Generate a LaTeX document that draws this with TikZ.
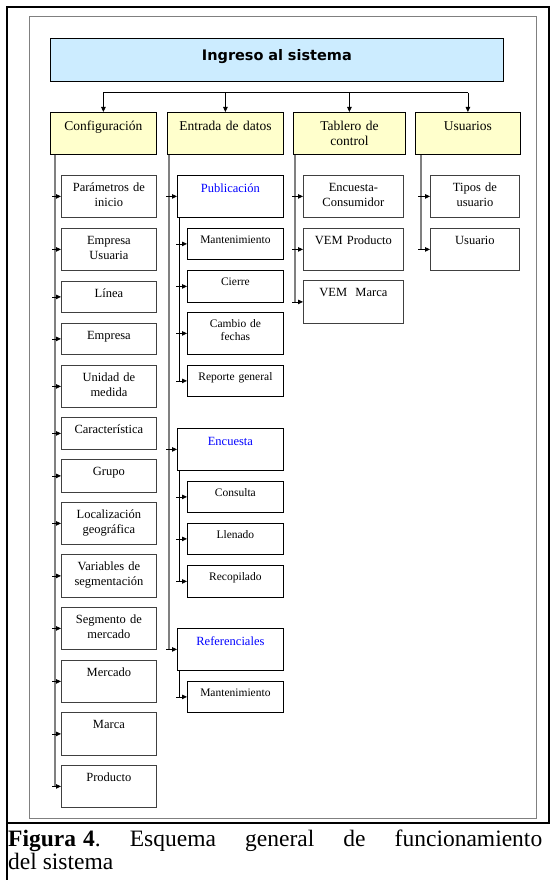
\documentclass[tikz,border=0pt]{standalone}
\usepackage{fontspec}
\setmainfont{Liberation Serif}
\newfontfamily\titlefont{DejaVu Sans}
\usepackage{xcolor}
\usepackage{tikz}
\usetikzlibrary{arrows.meta,calc}
\definecolor{lightblue}{RGB}{204,236,255}
\definecolor{lightyellow}{RGB}{255,255,204}
\definecolor{linkblue}{RGB}{0,0,255}

\begin{document}
\begin{tikzpicture}[x=1pt,y=-1pt,>={Triangle[length=5pt,width=4.5pt]},every node/.style={font=\fontsize{12.5}{15}\selectfont}]
\tikzstyle{box}=[draw=black!75,fill=white,line width=0.8pt,anchor=north west,align=center,inner xsep=0pt,inner ysep=0pt,text height=16pt]
\tikzstyle{head}=[box,draw=black,fill=lightyellow,font=\fontsize{13.5}{15}\selectfont,text height=18pt,text depth=24pt]
\tikzstyle{group}=[box,draw=black,text=linkblue,text width=106pt,text height=17pt,text depth=25pt]
\tikzstyle{sub}=[box,draw=black,text width=96pt,text height=15pt,font=\fontsize{11.5}{13.5}\selectfont]
\tikzstyle{spine}=[draw=black!50,line width=1.5pt]
\tikzstyle{link}=[->,line width=0.8pt]
\useasboundingbox (0,0) rectangle (550,880);
\draw[line width=2pt] (7,880) -- (7,7) -- (549,7) -- (549,823);
\draw[line width=2pt] (6,823) -- (550,823);
\draw[black!50,line width=1pt] (29,17) rectangle (536,818);
\node[box,draw=black,fill=lightblue,text width=453pt,text height=22pt,text depth=21pt,font=\titlefont\bfseries\fontsize{14.5}{17}\selectfont] (title) at (50,38) {Ingreso al sistema};
\node[head,text width=106pt] (cfg) at (50,112) {Configuración};
\node[head,text width=116pt] (ent) at (167,112) {Entrada de datos};
\node[head,text width=112pt] (tab) at (293,112) {Tablero de\\control};
\node[head,text width=105pt] (usr) at (415,112) {Usuarios};
\foreach \n/\y/\hh/\txt in {c1/175/26/{Parámetros de\\inicio},c2/228/26/{Empresa\\Usuaria},c3/281/15/{Línea},c4/323/15/{Empresa},c5/365/26/{Unidad de\\medida},c6/417/16/{Característica},c7/459/17/{Grupo},c8/502/26/{Localización\\geográfica},c9/554/27/{Variables de\\segmentación},c10/607/26/{Segmento de\\mercado},c11/660/26/{Mercado},c12/712/27/{Marca},c13/765/26/{Producto}}{\node[box,text width=95pt,text depth=\hh pt] (\n) at (61,\y) {\txt};}
\node[group] (pub) at (177,175) {Publicación};
\node[group] (enc) at (177,428) {Encuesta};
\node[group] (ref) at (177,628) {Referenciales};
\foreach \n/\y/\hh/\txt in {s1/228/16/{Mantenimiento},s2/270/17/{Cierre},s3/312/27/{Cambio de\\fechas},s4/365/16/{Reporte general},s5/481/16/{Consulta},s6/523/16/{Llenado},s7/565/17/{Recopilado},s8/681/16/{Mantenimiento}}{\node[sub,text depth=\hh pt] (\n) at (187,\y) {\txt};}
\foreach \n/\y/\hh/\txt in {t1/175/26/{Encuesta-\\Consumidor},t2/228/26/{VEM Producto},t3/280/27/{VEM\ \ Marca}}{\node[box,text width=100pt,text depth=\hh pt] (\n) at (303,\y) {\txt};}
\foreach \n/\y/\hh/\txt in {u1/175/26/{Tipos de\\usuario},u2/228/26/{Usuario}}{\node[box,text width=89pt,text depth=\hh pt] (\n) at (430,\y) {\txt};}
\coordinate (bus) at (0,93);
\draw[line width=1pt] (bus -| cfg.north) -- (bus -| usr.north);
\foreach \n in {cfg,ent,tab,usr}{\draw[link] (bus -| \n.north) -- (\n.north);}
\foreach \n/\dx/\last in {cfg/5/c13,ent/2/ref,tab/2/t3,usr/6/u2}{\coordinate (\n-x) at ([xshift=\dx pt]\n.south west);
\draw[spine] (\n-x) -- (\n-x |- \last.west);}
\foreach \b in {c1,c2,c3,c4,c5,c6,c7,c8,c9,c10,c11,c12,c13}{\draw[link] ([xshift=-3pt]cfg-x |- \b.west) -- (\b.west);}
\foreach \b in {pub,enc,ref}{\draw[link] ([xshift=-3pt]ent-x |- \b.west) -- (\b.west);}
\foreach \b in {t1,t2,t3}{\draw[link] ([xshift=-3pt]tab-x |- \b.west) -- (\b.west);}
\foreach \b in {u1,u2}{\draw[link] ([xshift=-3pt]usr-x |- \b.west) -- (\b.west);}
\foreach \g/\last in {pub/s4,enc/s7,ref/s8}{\coordinate (\g-x) at ([xshift=2pt]\g.south west);
\draw[line width=0.8pt] (\g-x) -- (\g-x |- \last.west);}
\foreach \g/\b in {pub/s1,pub/s2,pub/s3,pub/s4,enc/s5,enc/s6,enc/s7,ref/s8}{\draw[link] ([xshift=-3pt]\g-x |- \b.west) -- (\b.west);}
\node[anchor=north west,text width=534pt,align=justify,inner sep=0pt,font=\fontsize{23.5}{22.5}\selectfont\frenchspacing] (cap) at (8,830) {\textbf{Figura\hspace{.3em}4}. Esquema general de funcionamiento\linebreak del sistema};
\end{tikzpicture}
\end{document}
